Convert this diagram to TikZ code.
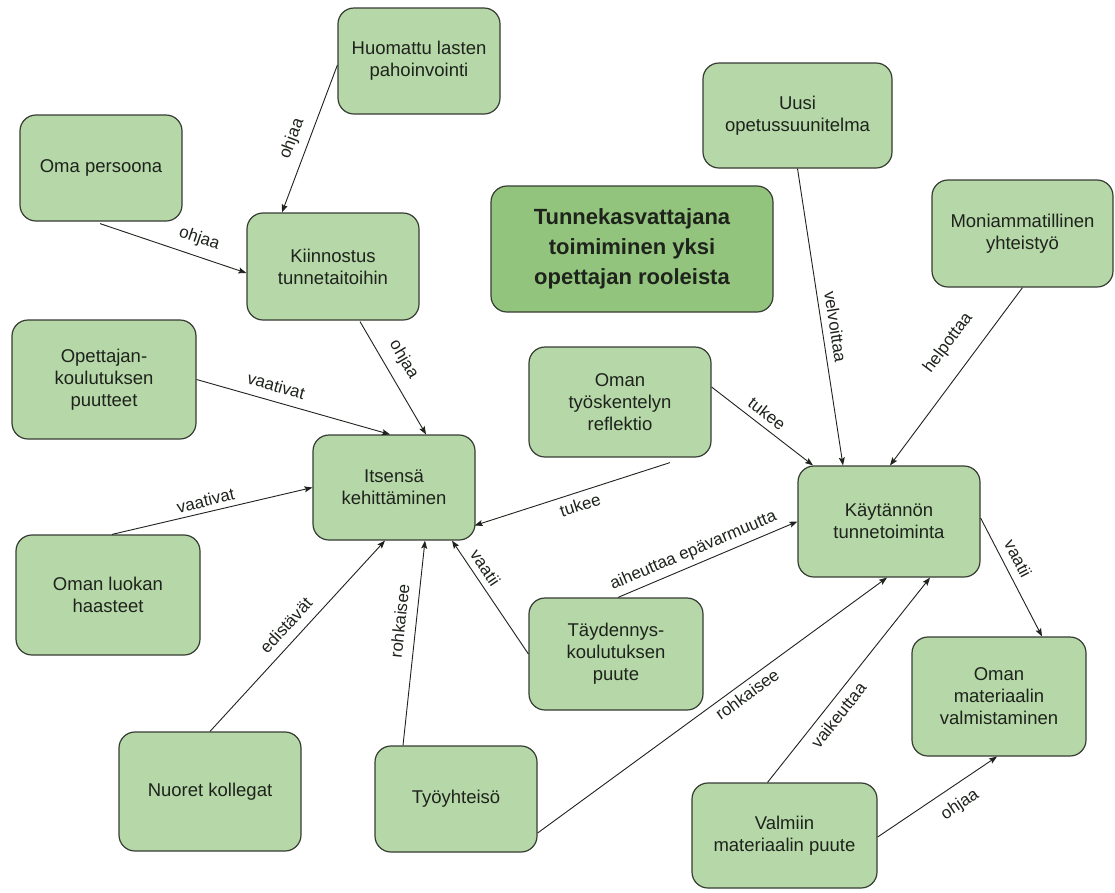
\documentclass[tikz,border=0pt]{standalone}
\usepackage{fontspec}
\setmainfont{Liberation Sans}
\usetikzlibrary{arrows.meta,calc}
\definecolor{boxfill}{HTML}{B6D7A8}
\definecolor{titlefill}{HTML}{93C47D}
\definecolor{boxline}{HTML}{363D33}
\definecolor{ink}{HTML}{1E231C}
\begin{document}
\begin{tikzpicture}[x=1pt,y=-1pt,
  box/.style={draw=boxline, line width=1.2pt, fill=boxfill, rounded corners=16pt,
    align=center, text=ink, inner sep=0pt, font=\fontsize{18.5}{22}\selectfont},
  titlebox/.style={box, fill=titlefill, font=\fontsize{22}{30}\selectfont\bfseries},
  link/.style={draw=ink, line width=0.9pt, -{Stealth[length=8pt,width=6pt,inset=1.5pt]}},
  lbl/.style={font=\fontsize{17}{20}\selectfont, text=ink, inner sep=2pt, sloped}]

\fill[white] (0,0) rectangle (1115,892);
\useasboundingbox (0,0) rectangle (1115,892);

% concept boxes
\node[box, minimum width=162pt, minimum height=106pt] (huom) at (419,61) {Huomattu lasten\\pahoinvointi};
\node[box, minimum width=162pt, minimum height=106pt] (omap) at (101,168) {Oma persoona};
\node[box, minimum width=172pt, minimum height=107pt] (kiin) at (333,266.5) {Kiinnostus\\tunnetaitoihin};
\node[titlebox, minimum width=282pt, minimum height=126pt] (main) at (632,249) {Tunnekasvattajana\\toimiminen yksi\\opettajan rooleista};
\node[box, minimum width=189pt, minimum height=105pt] (uusi) at (797.5,115.5) {Uusi\\opetussuunitelma};
\node[box, minimum width=181pt, minimum height=107pt] (moni) at (1022.5,233.5) {Moniammatillinen\\yhteistyö};
\node[box, minimum width=184pt, minimum height=119pt] (opet) at (104,379.5) {Opettajan-\\koulutuksen\\puutteet};
\node[box, minimum width=162pt, minimum height=105pt] (itse) at (394,487.5) {Itsensä\\kehittäminen};
\node[box, minimum width=182pt, minimum height=110pt] (refl) at (620,402) {Oman\\työskentelyn\\reflektio};
\node[box, minimum width=182pt, minimum height=111pt] (kayt) at (889,521.5) {Käytännön\\tunnetoiminta};
\node[box, minimum width=184pt, minimum height=120pt] (luok) at (108,595) {Oman luokan\\haasteet};
\node[box, minimum width=174pt, minimum height=112pt] (tayd) at (616,654) {Täydennys-\\koulutuksen\\puute};
\node[box, minimum width=174pt, minimum height=119pt] (mate) at (999,696.5) {Oman\\materiaalin\\valmistaminen};
\node[box, minimum width=182pt, minimum height=119pt] (nuor) at (210,791.5) {Nuoret kollegat};
\node[box, minimum width=162pt, minimum height=106pt] (tyoy) at (456,799) {Työyhteisö};
\node[box, minimum width=185pt, minimum height=105pt] (valm) at (784.5,835.5) {Valmiin\\materiaalin puute};

% relations
\draw[link] ($(huom.west)+(0,4)$) -- node[lbl, above=6pt, pos=0.54] {ohjaa} ($(kiin.north)+(-51,0)$);
\draw[link] ($(omap.south)+(-1,2)$) -- node[lbl, above=7pt, pos=0.64] {ohjaa} ($(kiin.west)+(0,6.5)$);
\draw[link] ($(kiin.south)+(27,1)$) -- node[lbl, above=8pt, pos=0.42] {ohjaa} ($(itse.north)+(32,0)$);
\draw[link] (opet.east) -- node[lbl, above=7pt, pos=0.39] {vaativat} ($(itse.north)+(-4,0)$);
\draw[link] ($(luok.north)+(4,0)$) -- node[lbl, above=3pt, pos=0.48] {vaativat} (itse.west);
\draw[link] ($(refl.south)+(50,5)$) -- node[lbl, below=4pt, pos=0.48] {tukee} ($(itse.east)+(-1,38)$);
\draw[link] (nuor.north) -- node[lbl, above=7pt, pos=0.5] {edistävät} ($(itse.south)+(-9,0)$);
\draw[link] ($(tyoy.north)+(-53,0)$) -- node[lbl, above=8pt, pos=0.6] {rohkaisee} ($(itse.south)+(31,0)$);
\draw[link] (tayd.west) -- node[lbl, above=4pt, pos=0.7] {vaatii} ($(itse.south)+(58,0)$);
\draw[link] ($(tayd.north)+(2,0)$) -- node[lbl, above=3pt, pos=0.45] {aiheuttaa epävarmuutta} (kayt.west);
\draw[link] ($(tyoy.east)+(0,34)$) -- node[lbl, below=3pt, pos=0.58] {rohkaisee} ($(kayt.south)+(-2,0)$);
\draw[link] ($(valm.north)+(-17,0)$) -- node[lbl, below=5pt, pos=0.37] {vaikeuttaa} ($(kayt.south)+(41,0)$);
\draw[link] ($(refl.east)+(0,-15)$) -- node[lbl, above=4pt, pos=0.47] {tukee} ($(kayt.north)+(-76,0)$);
\draw[link] (uusi.south) -- node[lbl, above=5pt, pos=0.54] {velvoittaa} ($(kayt.north)+(-46,0)$);
\draw[link] (moni.south) -- node[lbl, above=16pt, pos=0.4] {helpottaa} ($(kayt.north)+(1,0)$);
\draw[link] ($(kayt.east)+(0,-3.5)$) -- node[lbl, above=6pt, pos=0.4] {vaatii} ($(mate.north)+(43,0)$);
\draw[link] ($(valm.east)+(0,1.5)$) -- node[lbl, below=9pt, pos=0.6] {ohjaa} ($(mate.south)+(-2,0)$);
\end{tikzpicture}
\end{document}
